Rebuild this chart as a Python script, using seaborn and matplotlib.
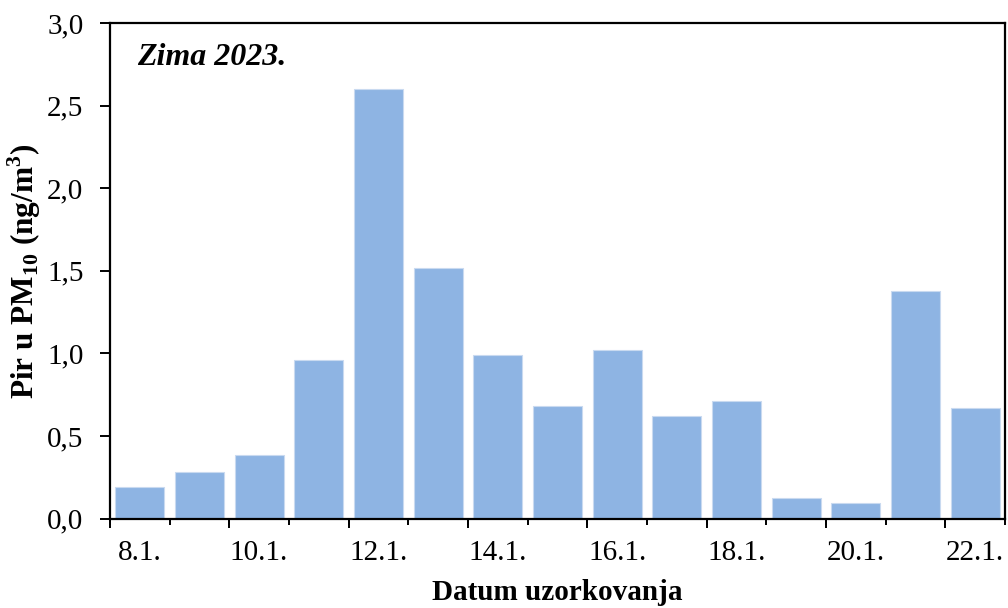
import numpy as np
import pandas as pd
import matplotlib
matplotlib.use("Agg")
import matplotlib.pyplot as plt
from matplotlib.ticker import FixedLocator, FuncFormatter
import seaborn as sns

dates = ["8.1.", "9.1.", "10.1.", "11.1.", "12.1.", "13.1.", "14.1.", "15.1.",
         "16.1.", "17.1.", "18.1.", "19.1.", "20.1.", "21.1.", "22.1."]
values = [0.19, 0.28, 0.385, 0.96, 2.60, 1.52, 0.99, 0.68,
          1.02, 0.62, 0.71, 0.125, 0.095, 1.38, 0.67]
shown_labels = ["8.1.", "10.1.", "12.1.", "14.1.", "16.1.", "18.1.", "20.1.", "22.1."]
yticks = [0.0, 0.5, 1.0, 1.5, 2.0, 2.5, 3.0]

sns.set_theme(style="white")
plt.rcParams["font.family"] = ["Liberation Serif", "DejaVu Serif"]
plt.rcParams["mathtext.fontset"] = "custom"
plt.rcParams["mathtext.rm"] = "Liberation Serif"
plt.rcParams["mathtext.bf"] = "Liberation Serif:bold"
plt.rcParams["text.color"] = "black"
plt.rcParams["axes.labelcolor"] = "black"

df = pd.DataFrame({"datum": dates, "val": values})

fig = plt.figure(figsize=(10.08, 6.08), dpi=100)
ax = fig.add_axes([0.109, 0.147, 0.888, 0.815])

sns.barplot(data=df, x="datum", y="val", order=dates, color="#8EB4E3",
            saturation=1, width=0.82, edgecolor="#C9DAF0", linewidth=0.8, ax=ax)

n = len(dates)
ax.set_xlim(-0.5, n - 0.5)
ax.set_ylim(0, 3.0)

for s in ax.spines.values():
    s.set_visible(True)
    s.set_color("black")
    s.set_linewidth(1.6)

# y axis
ax.set_yticks(yticks)
ax.yaxis.set_major_formatter(FuncFormatter(lambda v, p: f"{v:.1f}".replace(".", ",")))
ax.tick_params(axis="y", direction="out", length=7, width=1.4, pad=12,
               labelsize=21, colors="black", left=True)

# x axis: labels at every second category, minor ticks at boundaries
label_pos = [dates.index(l) for l in shown_labels]
ax.set_xticks(label_pos)
ax.set_xticklabels(shown_labels)
ax.tick_params(axis="x", which="major", length=0, pad=15.5, labelsize=21, colors="black")
ax.xaxis.set_minor_locator(FixedLocator(np.arange(-0.5, n, 1.0)))
ax.tick_params(axis="x", which="minor", direction="out", length=4.5, width=1.4,
               bottom=True, colors="black")

sec = ax.secondary_xaxis("bottom")
sec.set_xticks(np.arange(-0.5, n, 2.0))
sec.set_xticklabels([])
sec.tick_params(axis="x", direction="out", length=6.5, width=1.4, colors="black")
sec.spines["bottom"].set_visible(False)

ax.set_xlabel("Datum uzorkovanja", fontsize=21, fontweight="bold", labelpad=9)
ax.set_ylabel(r"Pir u PM$_{\mathbf{10}}$ (ng/m$^{\mathbf{3}}$)", fontsize=22.5,
              fontweight="bold", labelpad=3)

ax.text(0.03, 0.93, "Zima 2023.", transform=ax.transAxes, fontsize=23,
        fontweight="bold", fontstyle="italic", ha="left", va="center")

fig.savefig("out.png", dpi=100)
